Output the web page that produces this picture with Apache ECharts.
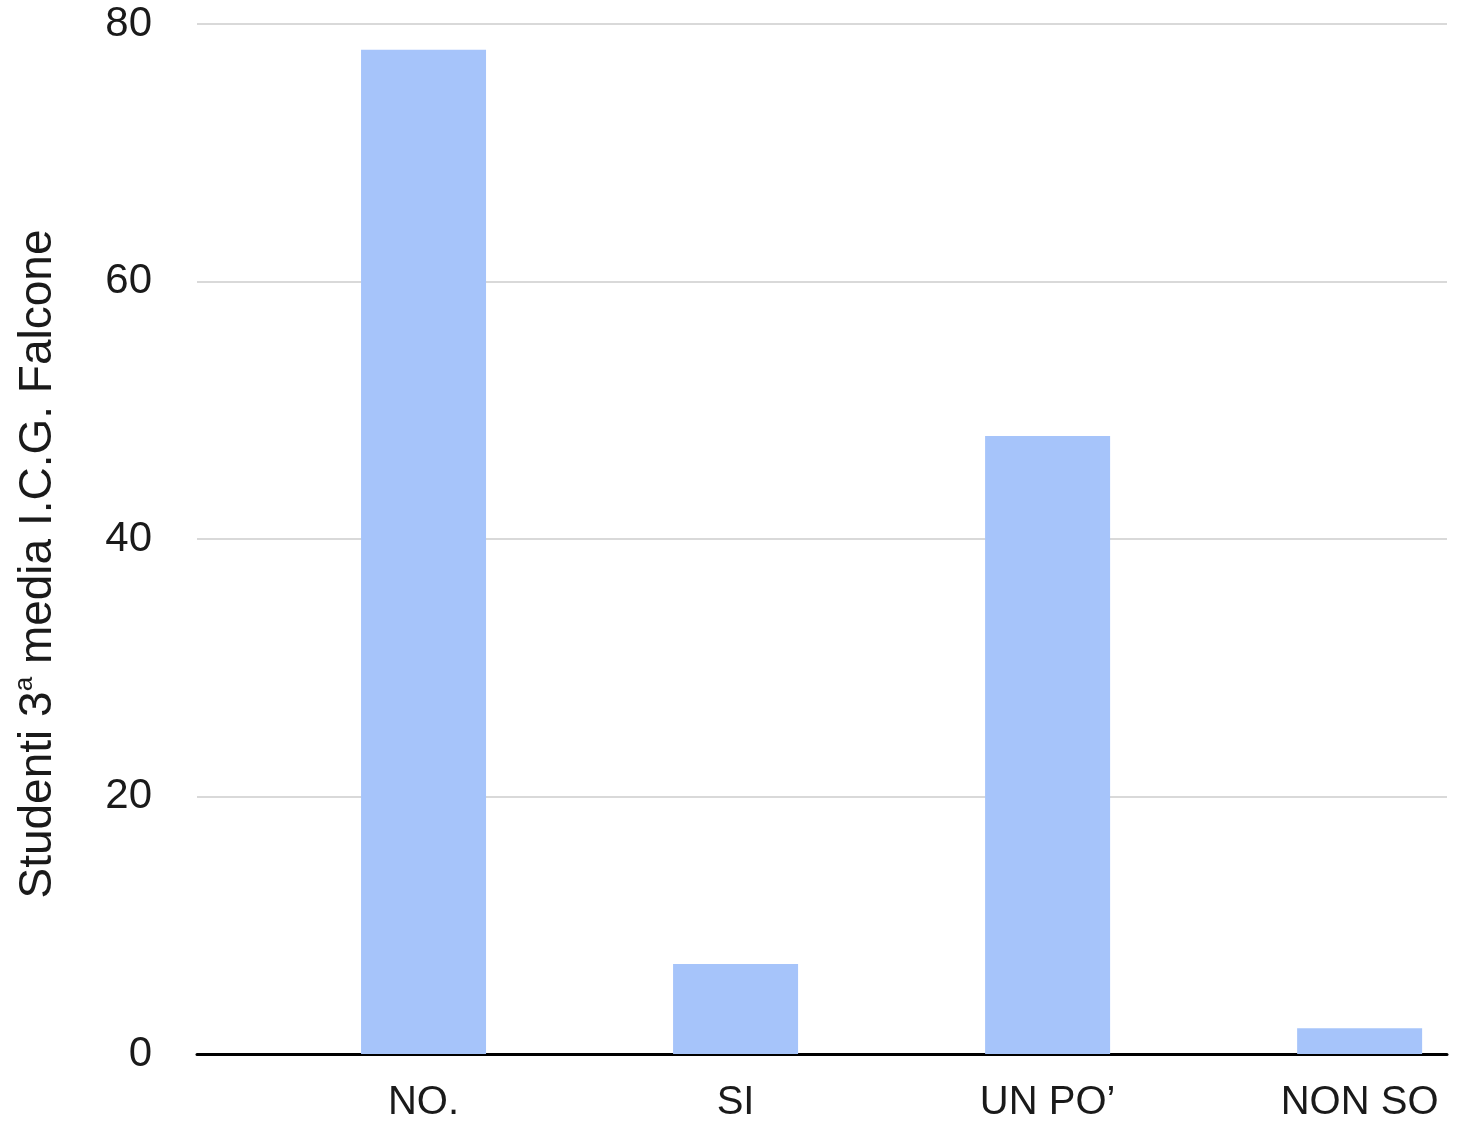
<!DOCTYPE html>
<html>
<head>
<meta charset="utf-8">
<script src="https://cdn.jsdelivr.net/npm/echarts@6/dist/echarts.min.js"></script>
<style>html,body{margin:0;padding:0;background:#fff;}#c{width:1458px;height:1124px;}</style>
</head>
<body>
<div id="c"></div>
<script>
var categories = ['NO.', 'SI', 'UN PO\u2019', 'NON SO'];
var values = [78, 7, 48, 2];
var yTicks = [0, 20, 40, 60, 80];

var chart = echarts.init(document.getElementById('c'), null, {renderer: 'canvas'});
var font = '"Liberation Sans", Arial, Helvetica, sans-serif';
var positions = categories.map(function (c, i) { return i; });
chart.setOption({
  animation: false,
  backgroundColor: '#ffffff',
  grid: {left: 197, right: 11, top: 24, bottom: 70, containLabel: false},
  xAxis: {
    type: 'value',
    min: -0.726,
    max: 3.28,
    splitLine: {show: false},
    axisTick: {show: false},
    axisLine: {show: true, lineStyle: {color: '#000', width: 3}},
    axisLabel: {
      customValues: positions,
      margin: 29,
      fontSize: 40,
      fontFamily: font,
      color: '#1a1a1a',
      formatter: function (v) { return categories[Math.round(v)]; }
    }
  },
  yAxis: {
    type: 'value',
    min: yTicks[0],
    max: yTicks[yTicks.length - 1],
    interval: 20,
    name: 'Studenti 3{sup|a} media I.C.G. Falcone',
    nameLocation: 'middle',
    nameGap: 133,
    nameRotate: 90,
    nameTextStyle: {
      fontSize: 46,
      fontFamily: font,
      color: '#1a1a1a',
      lineHeight: 52,
      padding: [0, 50, 0, 0],
      rich: {
        sup: {fontSize: 26, fontFamily: font, color: '#1a1a1a', lineHeight: 28, verticalAlign: 'top'}
      }
    },
    axisLine: {show: false},
    axisTick: {show: false},
    splitLine: {show: true, lineStyle: {color: '#cccccc', width: 1.5}},
    axisLabel: {margin: 45, fontSize: 42, fontFamily: font, color: '#1a1a1a'}
  },
  series: [{
    type: 'bar',
    data: values.map(function (v, i) { return [positions[i], v]; }),
    barWidth: 125,
    itemStyle: {color: '#a6c4fa'},
    z: 1
  }]
});
</script>
</body>
</html>
